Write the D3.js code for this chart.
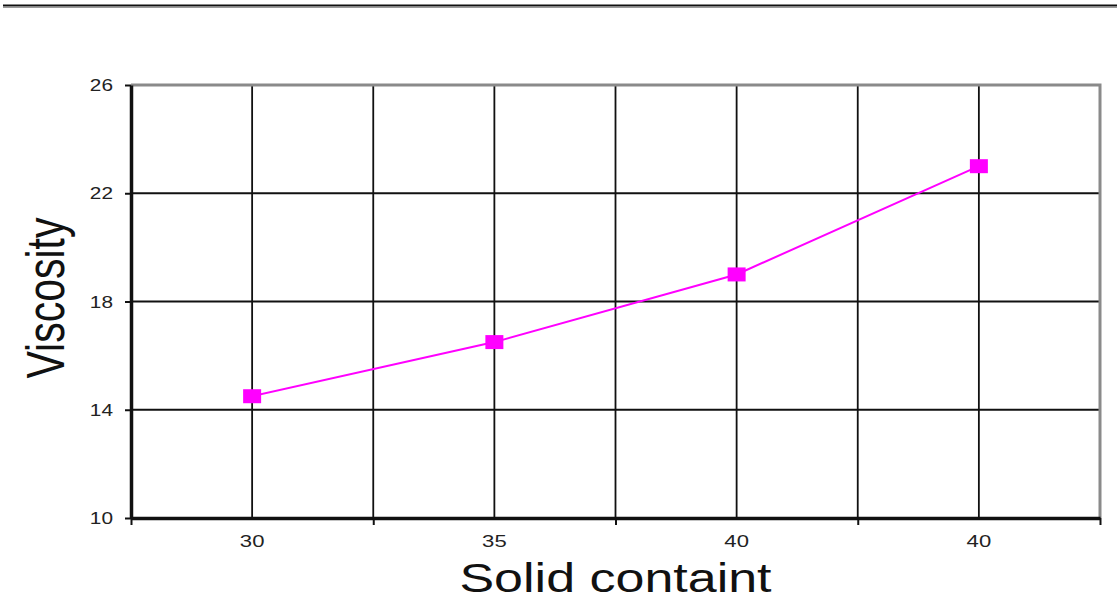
<!DOCTYPE html>
<html>
<head>
<meta charset="utf-8">
<script src="https://cdn.jsdelivr.net/npm/d3@7"></script>
<style>
  body { margin: 0; background: #fff; }
  text { font-family: "Liberation Sans", Arial, sans-serif; }
</style>
</head>
<body>
<div id="chart"></div>
<script>
// -----------------------------
// DATA
// -----------------------------
const categories = ["30", "35", "40", "40"];
const viscosity = [14.5, 16.5, 19, 23];
const yTicks = [10, 14, 18, 22, 26];

const width = 1117;
const height = 610;
const margin = { top: 85, right: 17, bottom: 92, left: 131 };
const innerW = width - margin.left - margin.right;
const innerH = height - margin.top - margin.bottom;

// the picture is stretched sideways, so text gets a horizontal scale too
const stretch = 1.3;

const svg = d3.select("#chart")
    .append("svg")
    .attr("width", width)
    .attr("height", height);

// rule across the top of the page
svg.append("line")
    .attr("x1", 3).attr("x2", width)
    .attr("y1", 5.5).attr("y2", 5.5)
    .attr("stroke", "#111").attr("stroke-width", 2);
svg.append("line")
    .attr("x1", 3).attr("x2", width)
    .attr("y1", 7.5).attr("y2", 7.5)
    .attr("stroke", "#999").attr("stroke-width", 1);

const g = svg.append("g")
    .attr("transform", `translate(${margin.left},${margin.top})`);

// -----------------------------
// SCALES
// -----------------------------
const idx = categories.map((d, i) => i);
const x = d3.scaleBand().domain(idx).range([0, innerW]).padding(0);
const xEdge = d3.scaleLinear().domain([0, categories.length]).range([0, innerW]);
const y = d3.scaleLinear().domain([10, 26]).range([innerH, 0]);

// -----------------------------
// GRID
// -----------------------------
g.selectAll(".hgrid")
    .data(yTicks.slice(1, -1))
    .join("line")
    .attr("x1", 0).attr("x2", innerW)
    .attr("y1", d => y(d)).attr("y2", d => y(d))
    .attr("stroke", "#111").attr("stroke-width", 1.8);

const vLines = idx.map(i => x(i) + x.bandwidth() / 2)
    .concat(d3.range(1, categories.length).map(i => xEdge(i)));
g.selectAll(".vgrid")
    .data(vLines)
    .join("line")
    .attr("x1", d => d).attr("x2", d => d)
    .attr("y1", 0).attr("y2", innerH)
    .attr("stroke", "#111").attr("stroke-width", 1.8);

// grey frame on top and right
g.append("path")
    .attr("d", `M0,0H${innerW}V${innerH}`)
    .attr("fill", "none")
    .attr("stroke", "#8a8a8a").attr("stroke-width", 3);

// -----------------------------
// AXES
// -----------------------------
const yAxis = g.append("g")
    .call(d3.axisLeft(y).tickValues(yTicks).tickSize(6).tickSizeOuter(0));
yAxis.select(".domain").attr("stroke", "#111").attr("stroke-width", 3.5);
yAxis.selectAll(".tick line").attr("stroke", "#111").attr("stroke-width", 2);
yAxis.selectAll(".tick text")
    .attr("x", 0).attr("dy", 0)
    .attr("transform", `translate(-18,0) scale(${stretch},1)`)
    .attr("dominant-baseline", "central")
    .style("font-size", "16px")
    .attr("fill", "#222");

const xAxis = g.append("g")
    .attr("transform", `translate(0,${innerH})`)
    .call(d3.axisBottom(xEdge).tickValues(d3.range(0, categories.length + 1))
        .tickSize(7).tickSizeOuter(0).tickFormat(""));
xAxis.select(".domain").attr("stroke", "#111").attr("stroke-width", 3.5);
xAxis.selectAll(".tick line").attr("stroke", "#111").attr("stroke-width", 2);

g.selectAll(".xlabel")
    .data(idx)
    .join("text")
    .attr("transform", i => `translate(${x(i) + x.bandwidth() / 2},${innerH + 29}) scale(${stretch},1)`)
    .attr("text-anchor", "middle")
    .style("font-size", "17px")
    .attr("fill", "#222")
    .text(i => categories[i]);

// axis titles
svg.append("text")
    .attr("transform", `translate(${margin.left + innerW / 2},592) scale(${stretch},1)`)
    .attr("text-anchor", "middle")
    .style("font-size", "40px")
    .attr("fill", "#111")
    .text("Solid containt");

svg.append("text")
    .attr("transform", `translate(64,298) scale(${stretch},1) rotate(-90)`)
    .attr("text-anchor", "middle")
    .style("font-size", "41px")
    .attr("fill", "#111")
    .text("Viscosity");

// -----------------------------
// LINE + MARKERS
// -----------------------------
const line = d3.line()
    .x((d, i) => x(i) + x.bandwidth() / 2)
    .y(d => y(d));

g.append("path")
    .datum(viscosity)
    .attr("d", line)
    .attr("fill", "none")
    .attr("stroke", "#ff00ff")
    .attr("stroke-width", 2);

g.selectAll(".marker")
    .data(viscosity)
    .join("rect")
    .attr("x", (d, i) => x(i) + x.bandwidth() / 2 - 9)
    .attr("y", d => y(d) - 7)
    .attr("width", 18)
    .attr("height", 14)
    .attr("fill", "#ff00ff");
</script>
</body>
</html>
